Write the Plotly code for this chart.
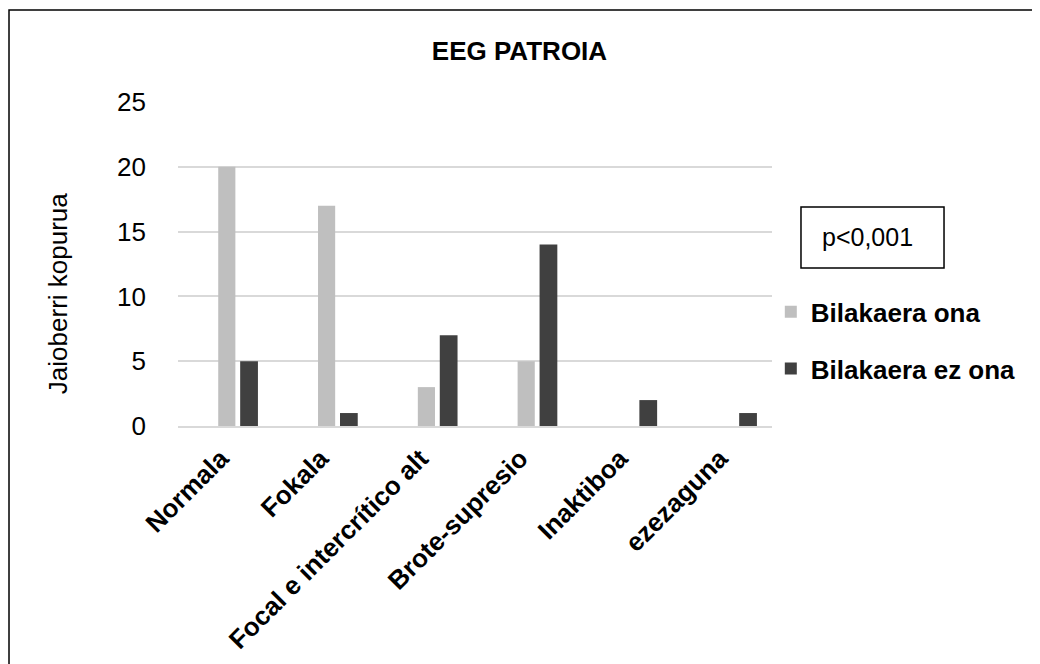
import plotly.graph_objects as go

categories = ["Normala", "Fokala", "Focal e intercrítico alt", "Brote-supresio", "Inaktiboa", "ezezaguna"]
ona = [20, 17, 3, 5, 0, 0]
ez_ona = [5, 1, 7, 14, 2, 1]
series_names = ["Bilakaera ona", "Bilakaera ez ona"]
y_ticks = [0, 5, 10, 15, 20, 25]

SANS = "Liberation Sans, Arial, sans-serif"

fig = go.Figure()
fig.add_trace(go.Bar(x=categories, y=ona, name=series_names[0],
                     marker=dict(color="#BFBFBF", line=dict(width=0)),
                     width=0.172, offset=-0.198, legendgroup="a"))
fig.add_trace(go.Bar(x=categories, y=ez_ona, name=series_names[1],
                     marker=dict(color="#404040", line=dict(width=0)),
                     width=0.178, offset=0.022, legendgroup="b"))

fig.update_layout(
    width=1040, height=664,
    margin=dict(l=170, r=276, t=94, b=246, pad=0, autoexpand=False),
    paper_bgcolor="white", plot_bgcolor="white",
    barmode="group",
    title=dict(text="<b>EEG PATROIA</b>", x=0.4918, xref="container", xanchor="center",
               y=0.936, yref="container", yanchor="middle",
               font=dict(family=SANS, size=26, color="black")),
    xaxis=dict(type="category", range=[-0.601, 5.351], showgrid=False, automargin=False,
               showline=True, linecolor="#D9D9D9", linewidth=2,
               ticks="", tickangle=-45, ticklabelstandoff=5, ticklabelshift=-17,
               tickfont=dict(family=SANS, size=26, color="black", weight="bold")),
    yaxis=dict(range=[0, 25], tickvals=y_ticks, showgrid=True, gridcolor="#D9D9D9", gridwidth=2,
               zeroline=False, showline=False, ticks="", ticklabelstandoff=31, automargin=False,
               tickfont=dict(family=SANS, size=26, color="black")),
    legend=dict(x=0.998, xanchor="left", y=0.425, yanchor="top",
                font=dict(family=SANS, size=26, color="black", weight="bold"),
                tracegroupgap=20, itemwidth=30, bgcolor="rgba(0,0,0,0)"),
    showlegend=True,
)

# y-axis title
fig.add_annotation(text="Jaioberri kopurua", textangle=-90, xref="paper", yref="paper",
                   x=-0.202, y=0.407, xanchor="center", yanchor="middle", showarrow=False,
                   font=dict(family=SANS, size=26, color="black"))

# p-value box
fig.add_shape(type="rect", xref="paper", yref="paper", x0=1.0488, x1=1.2896, y0=0.4877, y1=0.676,
              line=dict(color="black", width=1.5), fillcolor="rgba(0,0,0,0)")
fig.add_annotation(text="p<0,001", xref="paper", yref="paper", x=1.161, y=0.583,
                   xanchor="center", yanchor="middle", showarrow=False,
                   font=dict(family=SANS, size=25, color="black"))

# outer chart frame
fig.add_shape(type="rect", xref="paper", yref="paper", x0=-0.2845, x1=1.4478, y0=-1.0, y1=1.284,
              line=dict(color="black", width=1.5), fillcolor="rgba(0,0,0,0)", layer="below")

fig.write_html("out.html")
